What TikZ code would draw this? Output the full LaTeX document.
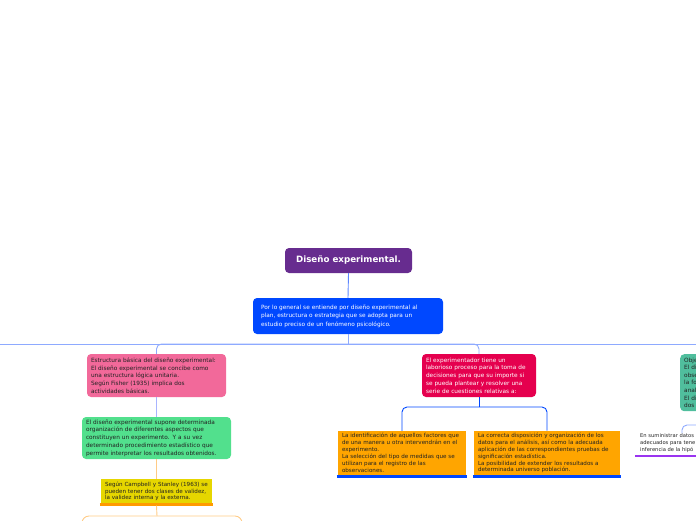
\documentclass[tikz,border=0pt]{standalone}
\usepackage{fontspec}
\setmainfont{DejaVu Sans}
\usetikzlibrary{arrows.meta,positioning,calc}
\definecolor{titlepurple}{HTML}{672C8F}
\definecolor{introblue}{HTML}{0048FF}
\definecolor{linkblue}{HTML}{5C85FF}
\definecolor{paleblue}{HTML}{8EAAFF}
\definecolor{lavender}{HTML}{A8B4FF}
\definecolor{pinkbox}{HTML}{F2699A}
\definecolor{crimson}{HTML}{E5004E}
\definecolor{greenbox}{HTML}{52E08D}
\definecolor{yellowbox}{HTML}{E6D600}
\definecolor{orangebar}{HTML}{FF9A00}
\definecolor{orangebox}{HTML}{FFA500}
\definecolor{lightorange}{HTML}{FFCB85}
\definecolor{tealbox}{HTML}{50BE9D}
\definecolor{purplebar}{HTML}{9A34F0}
\definecolor{darktext}{HTML}{222222}

\begin{document}
\begin{tikzpicture}[
  x=1pt,y=-1pt,
  box/.style={rectangle,rounded corners=4pt,align=left,inner xsep=4pt,inner ysep=2pt,
    text=darktext,font=\fontsize{5.8}{7.75}\selectfont},
  light/.style={box,text=white},
  link/.style={line width=0.9pt,rounded corners=5pt},
  bar/.style={line width=2.6pt}
]
  \useasboundingbox (0,0) rectangle (696,520);
  \clip (0,0) rectangle (696,520);

  \node[box,fill=titlepurple,text=white,align=center,minimum width=127pt,minimum height=25pt,
    font=\fontsize{8.7}{10}\selectfont\bfseries] (title) at (348.5,260.5) {Diseño experimental.};

  \node[light,fill=introblue,inner xsep=8pt,text width=174pt,minimum height=36pt,
    font=\fontsize{5.8}{8.5}\selectfont] (intro) at (348,316)
    {Por lo general se entiende por diseño experimental al\\
     plan, estructura o estrategia que se adopta para un\\
     estudio preciso de un fenómeno psicológico.};
  \draw[link,linkblue] (title.south) -- (intro.north);

  % main branch line
  \coordinate (hub) at (348,344);
  \coordinate (leftend) at (0,344);
  \coordinate (rightend) at (696,344);
  \draw[link,paleblue] (intro.south) -- (hub);
  \draw[link,paleblue] (hub) -- (leftend);
  \draw[link,paleblue] (hub) -- (rightend);

  \node[box,fill=pinkbox,text width=131pt,minimum height=43pt] (estructura) at (156.5,375.5)
    {Estructura básica del diseño experimental:\\
     El diseño experimental se concibe como\\
     una estructura lógica unitaria.\\
     Según Fisher (1935) implica dos\\
     actividades básicas.};
  \draw[link,paleblue] (hub) -| (estructura.north);

  \node[box,fill=greenbox,text width=141pt,minimum height=42pt] (supone) at (156.5,438)
    {El diseño experimental supone determinada\\
     organización de diferentes aspectos que\\
     constituyen un experimento. Y a su vez\\
     determinado procedimiento estadístico que\\
     permite interpretar los resultados obtenidos.};
  \draw[link,lavender] (estructura.south) -- (supone.north);

  \node[box,fill=yellowbox,rounded corners=0pt,text width=103pt,minimum height=25pt,
    font=\fontsize{5.6}{6.6}\selectfont] (campbell) at (156.5,491.5)
    {Según Campbell y Stanley (1963) se\\
     pueden tener dos clases de validez,\\
     la validez interna y la externa.};
  \draw[link,lightorange] (supone.south) -- (campbell.north);
  \draw[bar,orangebar] ($(campbell.south west)+(-1,0)$) -- ($(campbell.south east)+(1,0)$);
  \coordinate (validez) at (157,516);
  \draw[link,lightorange] ($(campbell.south)+(0,1.5)$) -- (validez);
  \draw[line width=0.9pt,lightorange,rounded corners=7pt] (82,528) -- (82,516) -- (242,516) -- (242,528);

  \node[light,fill=crimson,text width=106pt,minimum height=43pt] (proceso) at (479,375.5)
    {El experimentador tiene un\\
     laborioso proceso para la toma de\\
     decisiones para que su importe si\\
     se pueda plantear y resolver una\\
     serie de cuestiones relativas a:};
  \draw[link,paleblue] (hub) -| (proceso.north);

  \node[box,fill=orangebox,rounded corners=0pt,text width=120pt,minimum height=44pt,
    font=\fontsize{5.6}{6.9}\selectfont] (factores) at (402,453)
    {La identificación de aquellos factores que\\
     de una manera u otra intervendrán en el\\
     experimento.\\
     La selección del tipo de medidas que se\\
     utilizan para el registro de las\\
     observaciones.};
  \node[box,fill=orangebox,rounded corners=0pt,text width=138pt,minimum height=44pt,
    font=\fontsize{5.6}{6.9}\selectfont] (disposicion) at (547,453)
    {La correcta disposición y organización de los\\
     datos para el análisis, así como la adecuada\\
     aplicación de las correspondientes pruebas de\\
     significación estadística.\\
     La posibilidad de extender los resultados a\\
     determinada universo población.};
  \draw[bar,introblue] ($(factores.south west)+(-1,1.5)$) -- ($(factores.south east)+(1,1.5)$);
  \draw[bar,introblue] ($(disposicion.south west)+(-1,1.5)$) -- ($(disposicion.south east)+(1,1.5)$);

  \coordinate (split) at (479,407);
  \draw[link,introblue] (proceso.south) -- (split);
  \draw[link,introblue] (split) -| (factores.north);
  \draw[link,introblue] (split) -| (disposicion.north);

  % right side, cut by the page edge
  \node[box,fill=tealbox,anchor=north west,text width=100pt,minimum height=57pt,
    font=\fontsize{5.8}{7.6}\selectfont] (objetivos) at (680,354)
    {Obje\\ El di\\ obse\\ la fo\\ anal\\ El di\\ dos};

  \node[box,anchor=north west,inner xsep=0pt,inner ysep=0pt,
    font=\fontsize{5.2}{7}\selectfont] (suministrar) at (640,433.5)
    {En suministrar datos\\ adecuados para tene\\ inferencia de la hipó};
  \draw[bar,purplebar] ($(suministrar.south west)+(-5,3)$) -- ++(70,0);
  \coordinate (rightin) at (700,425);
  \coordinate (suministrartop) at (682,433);
  \draw[link,paleblue] (rightin) -| (suministrartop);
\end{tikzpicture}
\end{document}
